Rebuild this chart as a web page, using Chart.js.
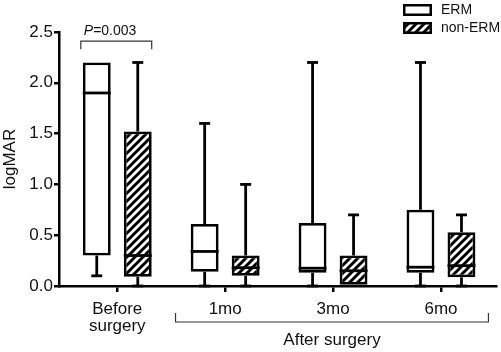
<!DOCTYPE html>
<html>
<head>
<meta charset="utf-8">
<script src="https://cdn.jsdelivr.net/npm/chart.js@4.4.1/dist/chart.umd.min.js"></script>
<style>
  body { margin: 0; background: #fff; }
  #wrap { width: 501px; height: 352px; }
</style>
</head>
<body>
<div id="wrap"><canvas id="boxChart" width="501" height="352"></canvas></div>
<script>
// logMAR box plots, ERM vs non-ERM
const categories = [["Before", "surgery"], "1mo", "3mo", "6mo"];
const ermMin    = [0.1, 0, 0, 0];
const ermQ1     = [0.3, 0.14, 0.13, 0.13];
const ermMedian = [1.9, 0.34, 0.175, 0.185];
const ermQ3     = [2.2, 0.61, 0.62, 0.75];
const ermMax    = [2.2, 1.6, 2.2, 2.2];

const nonMin    = [0, 0, 0, 0];
const nonQ1     = [0.09, 0.1, 0, 0.085];
const nonMedian = [0.3, 0.18, 0.15, 0.2];
const nonQ3     = [1.52, 0.3, 0.3, 0.53];
const nonMax    = [2.2, 1.0, 0.7, 0.7];

const yTicks = [0, 0.5, 1.0, 1.5, 2.0, 2.5];
const pValueText = "=0.003";

const FONT = "'Liberation Sans', Arial, sans-serif";
const LW = 2.8;

function makeHatch() {
    const c = document.createElement("canvas");
    c.width = 8; c.height = 8;
    const g = c.getContext("2d");
    g.fillStyle = "#fff";
    g.fillRect(0, 0, 8, 8);
    g.strokeStyle = "#000";
    g.lineWidth = 3;
    g.beginPath();
    g.moveTo(-2, 10); g.lineTo(10, -2);
    g.moveTo(-6, 6); g.lineTo(6, -6);
    g.moveTo(2, 14); g.lineTo(14, 2);
    g.stroke();
    return g.createPattern(c, "repeat");
}
const hatch = makeHatch();

const stats = [
    { min: ermMin, med: ermMedian, max: ermMax },
    { min: nonMin, med: nonMedian, max: nonMax }
];

function seg(ctx, x1, y1, x2, y2) {
    ctx.beginPath();
    ctx.moveTo(x1, y1);
    ctx.lineTo(x2, y2);
    ctx.stroke();
}

const boxExtras = {
    id: "boxExtras",
    afterDatasetsDraw(chart) {
        const ctx = chart.ctx;
        const y = chart.scales.y;
        ctx.save();
        ctx.strokeStyle = "#000";
        ctx.lineWidth = LW;
        chart.data.datasets.forEach((ds, di) => {
            const meta = chart.getDatasetMeta(di);
            const s = stats[di];
            meta.data.forEach((bar, i) => {
                const x = bar.x, half = bar.width / 2;
                const q1 = ds.data[i].y[0], q3 = ds.data[i].y[1];
                const pm = y.getPixelForValue(s.med[i]);
                seg(ctx, x - half, pm, x + half, pm);
                const pTop = y.getPixelForValue(s.max[i]);
                const pBot = y.getPixelForValue(s.min[i]);
                if (s.max[i] > q3) {
                    seg(ctx, x, y.getPixelForValue(q3), x, pTop);
                    seg(ctx, x - 5.5, pTop, x + 5.5, pTop);
                }
                if (s.min[i] < q1) {
                    seg(ctx, x, y.getPixelForValue(q1), x, pBot);
                    seg(ctx, x - 5.5, pBot, x + 5.5, pBot);
                }
            });
        });
        ctx.restore();
    },
    afterDraw(chart) {
        const ctx = chart.ctx;
        const x = chart.scales.x, y = chart.scales.y;
        const step = x.getPixelForValue(1) - x.getPixelForValue(0);
        ctx.save();
        ctx.strokeStyle = "#333";
        ctx.fillStyle = "#111";

        // P-value bracket over the first group
        const b0 = chart.getDatasetMeta(0).data[0];
        const b1 = chart.getDatasetMeta(1).data[0];
        const bl = b0.x - b0.width / 2 - 2, br = b1.x + b1.width / 2;
        const by = y.getPixelForValue(2.41);
        ctx.lineWidth = 1.2;
        ctx.beginPath();
        ctx.moveTo(bl, by + 8); ctx.lineTo(bl, by); ctx.lineTo(br, by); ctx.lineTo(br, by + 8);
        ctx.stroke();
        ctx.textBaseline = "alphabetic";
        ctx.textAlign = "left";
        ctx.font = "italic 14px " + FONT;
        ctx.fillText("P", bl + 3, by - 6);
        const pw = ctx.measureText("P").width;
        ctx.font = "14px " + FONT;
        ctx.fillText(pValueText, bl + 3 + pw, by - 6);

        // After surgery bracket
        const ax1 = x.getPixelForValue(1) - step * 0.46;
        const ax2 = x.getPixelForValue(3) + step * 0.44;
        const ay = chart.chartArea.bottom + 36;
        ctx.strokeStyle = "#333";
        ctx.lineWidth = 1.2;
        ctx.beginPath();
        ctx.moveTo(ax1, ay - 9); ctx.lineTo(ax1, ay); ctx.lineTo(ax2, ay); ctx.lineTo(ax2, ay - 9);
        ctx.stroke();
        ctx.font = "17px " + FONT;
        ctx.textAlign = "center";
        ctx.textBaseline = "middle";
        ctx.fillText("After surgery", (ax1 + ax2) / 2, ay + 18);

        // legend
        const lx = 403, lw = 29;
        const items = [{ label: "ERM", fill: "#fff", y: 4 }, { label: "non-ERM", fill: hatch, y: 22 }];
        items.forEach(it => {
            ctx.fillStyle = it.fill;
            ctx.fillRect(lx, it.y, lw, 12);
            ctx.strokeStyle = "#000";
            ctx.lineWidth = 2.5;
            ctx.strokeRect(lx + 1.25, it.y + 1.25, lw - 2.5, 12 - 2.5);
            ctx.fillStyle = "#111";
            ctx.font = "14px " + FONT;
            ctx.textAlign = "left";
            ctx.textBaseline = "middle";
            ctx.fillText(it.label, lx + 38, it.y + 6.5);
        });
        ctx.restore();
    }
};

function boxData(q1s, q3s) {
    return q1s.map((q, i) => ({ x: i, y: [q, q3s[i]] }));
}

const ctx = document.getElementById("boxChart").getContext("2d");
new Chart(ctx, {
    type: "bar",
    data: {
        datasets: [
            {
                label: "ERM",
                data: boxData(ermQ1, ermQ3),
                backgroundColor: "#fff",
                borderColor: "#000",
                borderWidth: LW,
                borderSkipped: false,
                categoryPercentage: 0.76,
                barPercentage: 0.68
            },
            {
                label: "non-ERM",
                data: boxData(nonQ1, nonQ3),
                backgroundColor: hatch,
                borderColor: "#000",
                borderWidth: LW,
                borderSkipped: false,
                categoryPercentage: 0.76,
                barPercentage: 0.68
            }
        ]
    },
    options: {
        responsive: false,
        animation: false,
        devicePixelRatio: 1,
        layout: { padding: { top: 32, right: 5, left: 0, bottom: 0 } },
        plugins: { legend: { display: false }, tooltip: { enabled: false } },
        scales: {
            x: {
                type: "linear",
                offset: false,
                min: -0.54,
                max: 3.51,
                afterBuildTicks: s => { s.ticks = categories.map((c, i) => ({ value: i })); },
                grid: { display: true, offset: false, drawOnChartArea: false, drawTicks: true, tickLength: 6, color: "#000", lineWidth: 2.5 },
                border: { display: true, color: "#000", width: 2.5 },
                ticks: { color: "#111", padding: 8, font: { family: FONT, size: 17, lineHeight: 1.05 }, maxRotation: 0, autoSkip: false,
                         callback: v => categories[v] },
                afterFit: s => { s.height = 66; }
            },
            y: {
                min: 0,
                max: 2.5,
                afterBuildTicks: s => { s.ticks = yTicks.map(v => ({ value: v })); },
                grid: { display: true, drawOnChartArea: false, drawTicks: true, tickLength: 5, color: "#000", lineWidth: 2.5 },
                border: { display: true, color: "#000", width: 2.5 },
                ticks: { color: "#111", padding: 1, font: { family: FONT, size: 17 }, callback: v => v.toFixed(1) },
                title: { display: true, text: "logMAR", color: "#111", font: { family: FONT, size: 17 }, padding: { top: 0, bottom: 3 } },
                afterFit: s => { s.width = 59; }
            }
        }
    },
    plugins: [boxExtras]
});
</script>
</body>
</html>
